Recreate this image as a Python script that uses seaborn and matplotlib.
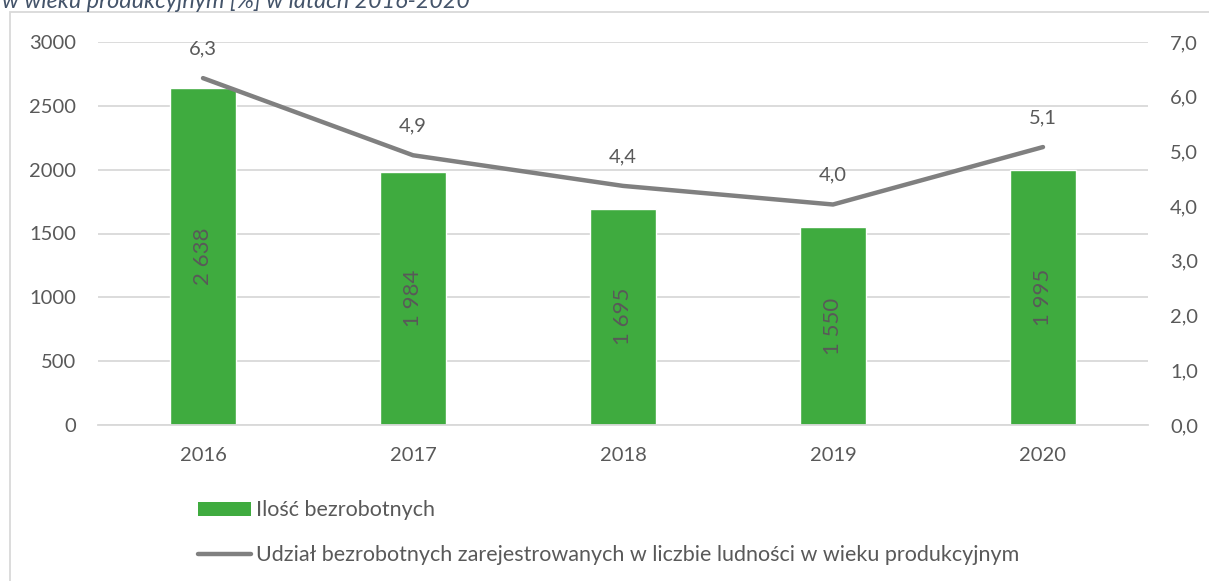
import matplotlib
matplotlib.use("Agg")
import matplotlib.pyplot as plt
import seaborn as sns
import pandas as pd
from matplotlib.patches import Patch, Rectangle
from matplotlib.lines import Line2D

years = ["2016", "2017", "2018", "2019", "2020"]
unemployed = [2638, 1984, 1695, 1550, 1995]
share_pct = [6.34, 4.93, 4.37, 4.03, 5.08]

bar_label = "Ilość bezrobotnych"
line_label = "Udział bezrobotnych zarejestrowanych w liczbie ludności w wieku produkcyjnym"
title = "w wieku produkcyjnym [%] w latach 2016-2020"

GREEN = "#3fab3f"
GREY_LINE = "#808080"
TEXT = "#595959"
GRID = "#d9d9d9"
FS = 14.5

sns.set_style("white")
plt.rcParams["font.family"] = ["Lato", "DejaVu Sans"]

df = pd.DataFrame({"year": years, "count": unemployed, "share": share_pct})

fig = plt.figure(figsize=(12.09, 5.81), dpi=100)
ax = fig.add_axes([98 / 1209, 1 - 425 / 581, 1050 / 1209, 383 / 581])

sns.barplot(data=df, x="year", y="count", color=GREEN, width=0.31,
            saturation=1, ax=ax, zorder=2)
ax.set_ylim(0, 3000)
ax.set_yticks(range(0, 3001, 500))
ax.set_xlim(-0.5, 4.5)
ax.set_xlabel("")
ax.set_ylabel("")
ax.yaxis.grid(True, color=GRID, linewidth=1.3, zorder=0)
ax.set_axisbelow(True)
for s in ax.spines.values():
    s.set_visible(False)
ax.spines["bottom"].set_visible(True)
ax.spines["bottom"].set_color(GRID)
ax.spines["bottom"].set_linewidth(1.3)
ax.tick_params(axis="both", length=0, labelsize=FS, colors=TEXT)
ax.tick_params(axis="y", pad=16)
ax.tick_params(axis="x", pad=16)

for p, v in zip(ax.patches, unemployed):
    ax.text(p.get_x() + p.get_width() / 2, v / 2, f"{v:,}".replace(",", " "),
            rotation=90, ha="center", va="center", fontsize=FS + 1.5, color=TEXT)

ax2 = ax.twinx()
sns.lineplot(x=range(len(years)), y=share_pct, ax=ax2, color=GREY_LINE,
             linewidth=3.2, solid_capstyle="round", zorder=3)
ax2.set_ylim(0, 7)
ax2.set_yticks(range(0, 8))
ax2.set_yticklabels([f"{t},0" for t in range(0, 8)])
for s in ax2.spines.values():
    s.set_visible(False)
ax2.tick_params(axis="y", length=0, labelsize=FS, colors=TEXT, pad=16)

for i, v in enumerate(share_pct):
    ax2.annotate(f"{v:.1f}".replace(".", ","), (i, v), xytext=(0, 21),
                 textcoords="offset points", ha="center", va="center",
                 fontsize=FS, color=TEXT)

# frame of the chart area
fig.patches.append(Rectangle((10 / 1209, -0.01), 1.1, 1 - 12 / 581 + 0.01,
                             transform=fig.transFigure, fill=False,
                             edgecolor=GRID, linewidth=1.3))

fig.text(2 / 1209, 1 - 1 / 581, title, ha="left", va="center", fontsize=16.8,
         style="italic", color="#44546a")

handles = [Patch(facecolor=GREEN, edgecolor="none"),
           Line2D([0], [0], color=GREY_LINE, linewidth=3.2, solid_capstyle="round")]
fig.legend(handles, [bar_label, line_label], loc="upper left",
           bbox_to_anchor=(179 / 1209, 1 - 481 / 581), frameon=False,
           fontsize=15.5, labelcolor=TEXT, handlelength=2.45, handleheight=0.62,
           handletextpad=0.25, labelspacing=1.15)

plt.savefig("out.png", dpi=100)
